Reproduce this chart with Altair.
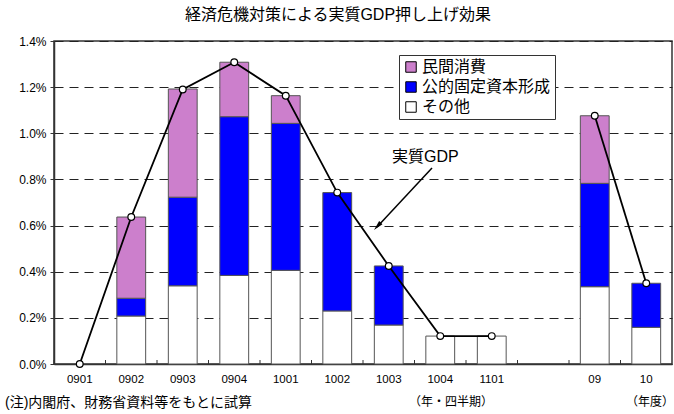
import altair as alt
import pandas as pd

FONT = "'Liberation Sans', 'Noto Sans CJK JP', sans-serif"

# ---- data ----
cats = ["0901", "0902", "0903", "0904", "1001", "1002", "1003", "1004", "1101", " ", "09", "10"]
other = [0.0, 0.208, 0.339, 0.384, 0.406, 0.230, 0.169, 0.121, 0.121, None, 0.335, 0.159]
public = [0.0, 0.077, 0.384, 0.688, 0.637, 0.513, 0.256, 0.0, 0.0, None, 0.448, 0.191]
private = [0.0, 0.352, 0.469, 0.236, 0.120, 0.0, 0.0, 0.0, 0.0, None, 0.293, 0.0]
gdp = [0.0, 0.637, 1.190, 1.308, 1.163, 0.743, 0.425, 0.121, 0.121, None, 1.076, 0.350]
gdp_group = ["四半期"] * 9 + [None] + ["年度"] * 2

components = ["民間消費", "公的固定資本形成", "その他"]
comp_colors = ["#CC7FCC", "#0000FF", "#FFFFFF"]
comp_order = {"その他": 0, "公的固定資本形成": 1, "民間消費": 2}
y_ticks = [0.0, 0.2, 0.4, 0.6, 0.8, 1.0, 1.2, 1.4]

title_text = "経済危機対策による実質GDP押し上げ効果"
note_text = "(注)内閣府、財務省資料等をもとに試算"
quarter_label = "（年・四半期）"
year_label = "（年度）"
gdp_label = "実質GDP"

# ---- tables ----
rows = []
for c, o, pu, pr in zip(cats, other, public, private):
    for name, v in (("その他", o), ("公的固定資本形成", pu), ("民間消費", pr)):
        if v is not None and v > 0:
            rows.append({"cat": c, "comp": name, "value": v, "ord": comp_order[name]})
bars_df = pd.DataFrame(rows)

gdp_df = pd.DataFrame(
    [{"cat": c, "gdp": g, "grp": grp} for c, g, grp in zip(cats, gdp, gdp_group) if g is not None]
)
tick_df = pd.DataFrame({"cat": cats})

W, H = 618, 323
STEP = W / len(cats)

xscale = alt.Scale(domain=cats, paddingInner=0.44, paddingOuter=0.22)
xaxis = alt.Axis(
    title=None, ticks=False, labelFontSize=11.5, labelPadding=9, labelAngle=0,
    domainColor="#333", domainWidth=1.5, labelColor="#000", grid=False,
)
yscale = alt.Scale(domain=[0, 1.4], nice=False, zero=True)
yaxis = alt.Axis(
    title=None, values=y_ticks, labelExpr="format(datum.value, '.1f') + '%'",
    labelFontSize=12, labelPadding=4, tickSize=4, tickColor="#333",
    domainColor="#333", domainWidth=1.5, labelColor="#000",
    grid=True, gridColor="#222", gridDash=[9, 6], gridWidth=1,
)

x_enc = alt.X("cat:N", sort=cats, scale=xscale, axis=xaxis, title=None)

bars = alt.Chart(bars_df).mark_bar(stroke="#555", strokeWidth=1).encode(
    x=x_enc,
    y=alt.Y("value:Q", stack="zero", scale=yscale, axis=yaxis, title=None),
    color=alt.Color(
        "comp:N",
        scale=alt.Scale(domain=components, range=comp_colors),
        legend=alt.Legend(
            orient="none", legendX=345, legendY=14, title=None,
            symbolType="square", symbolSize=110, symbolStrokeColor="#000",
            symbolStrokeWidth=1, labelFontSize=16, labelFont=FONT,
            labelColor="#000", strokeColor="#333", fillColor="white",
            padding=4, rowPadding=4, labelOffset=3, labelLimit=300,
        ),
    ),
    order=alt.Order("ord:Q", sort="ascending"),
)

ticks = alt.Chart(tick_df).mark_rule(color="#333", strokeWidth=1, xOffset=-STEP / 2).encode(
    x=x_enc, y=alt.value(H), y2=alt.value(H - 4)
)

line = alt.Chart(gdp_df).mark_line(color="#000", strokeWidth=1.8).encode(
    x=x_enc,
    y=alt.Y("gdp:Q", scale=yscale, title=None),
    detail="grp:N",
)
points = alt.Chart(gdp_df).mark_point(
    shape="circle", filled=True, fill="#fff", stroke="#000", strokeWidth=1.2, size=45, opacity=1
).encode(x=x_enc, y=alt.Y("gdp:Q", scale=yscale, title=None))

# annotations
ann_df = pd.DataFrame({"t": [gdp_label]})
gdp_text = alt.Chart(ann_df).mark_text(
    align="left", baseline="middle", fontSize=16, font=FONT, color="#000"
).encode(text="t:N", x=alt.value(338), y=alt.value(116))

arrow_line = alt.Chart(ann_df).mark_rule(color="#000", strokeWidth=1.5).encode(
    x=alt.value(378), y=alt.value(127), x2=alt.value(323), y2=alt.value(186)
)
arrow_head = alt.Chart(ann_df).mark_point(
    shape="M0,-1L0.45,1L-0.45,1Z", filled=True, color="#000", size=100, angle=223, opacity=1
).encode(x=alt.value(323.4), y=alt.value(185.3))

lab_df = pd.DataFrame({"t": [quarter_label, year_label], "x": [397, 596]})
sub_labels = alt.Chart(lab_df).mark_text(
    align="center", baseline="middle", fontSize=12, font=FONT, color="#000"
).encode(text="t:N", x=alt.X("x:Q", scale=None), y=alt.value(361))

note_df = pd.DataFrame({"t": [note_text]})
note = alt.Chart(note_df).mark_text(
    align="left", baseline="middle", fontSize=14, font=FONT, color="#000"
).encode(text="t:N", x=alt.value(-49), y=alt.value(362))

chart = alt.layer(
    bars, ticks, line, points, gdp_text, arrow_line, arrow_head, sub_labels, note
).properties(
    width=W, height=H,
    autosize=alt.AutoSizeParams(type="none"),
    padding={"left": 54, "top": 41, "right": 2, "bottom": 50},
    title=alt.TitleParams(
        title_text, fontSize=16, font=FONT, fontWeight="normal", anchor="middle",
        dx=-25, offset=12, color="#000",
    ),
).configure(font=FONT).configure_view(stroke="#333", strokeWidth=1.5)

chart.save("out.html", embed_options={"renderer": "svg", "actions": False})
